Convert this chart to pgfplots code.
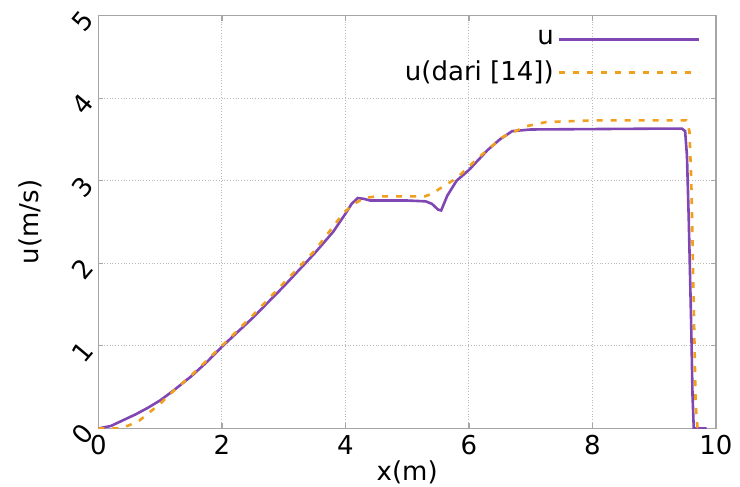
\documentclass[border=0pt]{standalone}
\usepackage{fontspec}
\setmainfont{DejaVu Sans}
\usepackage{pgfplots}
\pgfplotsset{compat=1.18}
\definecolor{upurple}{RGB}{128,70,180}
\definecolor{uorange}{RGB}{240,160,30}
\begin{document}
\fontsize{13pt}{15pt}\selectfont
\begin{tikzpicture}
\begin{axis}[
  scale only axis, width=308.8pt, height=206.5pt,
  xmin=0, xmax=10, ymin=0, ymax=5,
  xtick={0,2,...,10}, ytick={0,1,...,5},
  grid=major,
  major grid style={densely dotted, gray!55, line width=0.5pt},
  axis line style={gray!70, line width=0.7pt},
  tick style={gray!70, line width=0.6pt},
  major tick length=2.5pt,
  tick align=inside,
  xlabel={x(m)}, ylabel={u(m/s)},
  xlabel style={yshift=6pt},
  ylabel style={yshift=3pt},
  yticklabel style={xshift=-8pt, yshift=-3pt, rotate=50, anchor=center},
  xticklabel style={yshift=1pt},
  /pgf/number format/assume math mode=true,
  legend plot pos=right,
  legend cell align=right,
  legend style={draw=none, fill=none, at={(rel axis cs:0.985,0.985)}, anchor=north east,
    row sep=2pt, font=\fontsize{13pt}{15pt}\selectfont},
  legend image code/.code={\draw[#1] (0pt,0pt) -- (70pt,0pt);},
]
\addplot[upurple, line width=1.3pt] coordinates {
(0,0) (0.2,0.03) (0.4,0.1) (0.6,0.17) (0.8,0.25) (1.0,0.34) (1.2,0.45) (1.5,0.63)
(1.75,0.8) (2.0,0.99) (2.5,1.34) (3.0,1.72) (3.5,2.12) (3.8,2.38) (4.0,2.6) (4.1,2.72) (4.2,2.79)
(4.3,2.78) (4.4,2.76) (5.0,2.76) (5.3,2.75) (5.4,2.72) (5.5,2.65) (5.55,2.64) (5.65,2.82)
(5.8,3.0) (6.0,3.13) (6.3,3.37) (6.5,3.5) (6.7,3.6) (7.0,3.62) (9.0,3.63) (9.45,3.63)
(9.5,3.6) (9.53,3.3) (9.56,2.5) (9.6,1.2) (9.62,0.4) (9.64,0) (9.85,0)
};
\addlegendentry{u}
\addplot[uorange, line width=1.3pt, dash pattern=on 3pt off 4pt] coordinates {
(0,0) (0.35,0) (0.5,0.04) (0.67,0.1) (1.0,0.3) (1.21,0.45) (1.5,0.64) (2.0,1.0)
(2.5,1.37) (3.0,1.76) (3.5,2.15) (3.96,2.6) (4.1,2.7) (4.3,2.79) (4.5,2.81) (5.28,2.81)
(5.4,2.84) (5.58,2.93) (5.8,3.03) (6.17,3.29) (6.55,3.53) (6.93,3.66) (7.25,3.71)
(8,3.73) (9.52,3.73) (9.57,3.6) (9.6,3.0) (9.64,1.5) (9.67,0.3) (9.7,0.02) (9.72,0)
};
\addlegendentry{u(dari [14])}
\coordinate (sw) at (rel axis cs:0,0);
\coordinate (ne) at (rel axis cs:1,1);
\end{axis}
\pgfresetboundingbox
\path (sw) ++(-49.2pt,-29.25pt) coordinate (a);
\path (ne) ++(12pt,7.75pt) coordinate (b);
\path[use as bounding box] (a) rectangle (b);
\end{tikzpicture}
\end{document}
